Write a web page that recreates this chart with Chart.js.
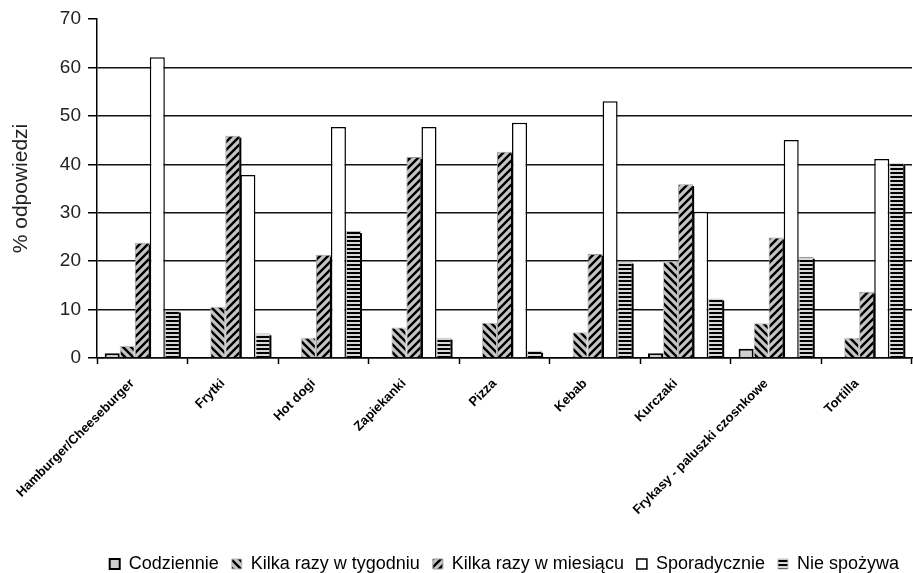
<!DOCTYPE html>
<html>
<head>
<meta charset="utf-8">
<script src="https://cdn.jsdelivr.net/npm/chart.js@4.4.0/dist/chart.umd.min.js"></script>
<style>
  html, body { margin: 0; padding: 0; background: #fff; }
  #wrap { width: 913px; height: 573px; }
</style>
</head>
<body>
<div id="wrap"><canvas id="foodChart" width="913" height="573"></canvas></div>
<script>
const categories = ['Hamburger/Cheeseburger', 'Frytki', 'Hot dogi', 'Zapiekanki', 'Pizza',
    'Kebab', 'Kurczaki', 'Frykasy - paluszki czosnkowe', 'Tortilla'];
const seriesNames = ['Codziennie', 'Kilka razy w tygodniu', 'Kilka razy w miesiącu', 'Sporadycznie', 'Nie spożywa'];

const codziennie  = [1.0, 0, 0, 0, 0, 0, 1.0, 1.9, 0];
const wTygodniu   = [2.5, 10.6, 4.2, 6.3, 7.3, 5.3, 20.0, 7.2, 4.2];
const wMiesiacu   = [23.8, 45.9, 21.3, 41.5, 42.6, 21.5, 35.9, 24.9, 13.7];
const sporadycznie = [62.1, 37.8, 47.7, 47.7, 48.6, 53.0, 30.2, 45.0, 41.1];
const nieSpozywa  = [9.8, 5.1, 26.2, 4.2, 1.5, 19.9, 12.3, 20.9, 40.2];

const yTicks = [0, 10, 20, 30, 40, 50, 60, 70];

// --- fill patterns (Excel-like hatching) ---
function makePattern(size, draw) {
    const c = document.createElement('canvas');
    c.width = size; c.height = size;
    const g = c.getContext('2d');
    draw(g, size);
    return g.createPattern(c, 'repeat');
}

const patWeek = makePattern(8, (g, s) => {
    g.fillStyle = '#c4c4c4';
    g.fillRect(0, 0, s, s);
    g.strokeStyle = '#000';
    g.lineWidth = 2.4;
    g.beginPath();
    g.moveTo(-2, -2); g.lineTo(s + 2, s + 2);
    g.moveTo(-2, s - 2); g.lineTo(2, s + 2);
    g.moveTo(s - 2, -2); g.lineTo(s + 2, 2);
    g.stroke();
});

const patMonth = makePattern(8, (g, s) => {
    g.fillStyle = '#c4c4c4';
    g.fillRect(0, 0, s, s);
    g.strokeStyle = '#000';
    g.lineWidth = 2.4;
    g.beginPath();
    g.moveTo(-2, s + 2); g.lineTo(s + 2, -2);
    g.moveTo(-2, 2); g.lineTo(2, -2);
    g.moveTo(s - 2, s + 2); g.lineTo(s + 2, s - 2);
    g.stroke();
});

const patNie = makePattern(4, (g, s) => {
    g.fillStyle = '#d8d8d8';
    g.fillRect(0, 0, s, s);
    g.fillStyle = '#000';
    g.fillRect(0, 0, s, 2);
});

// black right edge on hatched bars, like the source
const edgePlugin = {
    id: 'edge',
    afterDatasetsDraw(chart) {
        const ctx = chart.ctx;
        ctx.save();
        ctx.strokeStyle = '#000';
        ctx.lineWidth = 2;
        [2, 4].forEach(i => {
            chart.getDatasetMeta(i).data.forEach(bar => {
                if (bar.base - bar.y < 1) return;
                const x = bar.x + bar.width / 2;
                ctx.beginPath();
                ctx.moveTo(x, bar.y + 2);
                ctx.lineTo(x, bar.base);
                ctx.stroke();
            });
        });
        ctx.restore();
    }
};

const ctx = document.getElementById('foodChart').getContext('2d');
new Chart(ctx, {
    type: 'bar',
    data: {
        labels: categories,
        datasets: [
            { label: seriesNames[0], data: codziennie, backgroundColor: '#cfcfcf', borderColor: '#000', borderWidth: 2 },
            { label: seriesNames[1], data: wTygodniu, backgroundColor: patWeek, borderColor: '#bdbdbd', borderWidth: 1 },
            { label: seriesNames[2], data: wMiesiacu, backgroundColor: patMonth, borderColor: '#9a9a9a', borderWidth: 1 },
            { label: seriesNames[3], data: sporadycznie, backgroundColor: '#fff', borderColor: '#000', borderWidth: 1.5 },
            { label: seriesNames[4], data: nieSpozywa, backgroundColor: patNie, borderColor: '#bdbdbd', borderWidth: 1 }
        ]
    },
    options: {
        responsive: false,
        animation: false,
        layout: { padding: { top: 19, right: 1, left: 0, bottom: -10 } },
        datasets: {
            bar: { categoryPercentage: 0.83, barPercentage: 1.0 }
        },
        plugins: {
            legend: {
                position: 'bottom',
                align: 'end',
                labels: {
                    color: '#000',
                    boxWidth: 10,
                    boxHeight: 10,
                    padding: 13,
                    font: { family: 'Liberation Sans, Arial', size: 18 }
                }
            },
            tooltip: { enabled: false }
        },
        scales: {
            x: {
                offset: true,
                grid: {
                    offset: true,
                    drawOnChartArea: false,
                    drawTicks: true,
                    tickLength: 6,
                    tickColor: '#000',
                    tickWidth: 1.5
                },
                border: { color: '#000', width: 1.5 },
                ticks: {
                    color: '#000',
                    minRotation: 45,
                    maxRotation: 45,
                    autoSkip: false,
                    padding: 12,
                    labelOffset: -10,
                    font: { family: 'Liberation Sans, Arial', size: 13, weight: 'bold' }
                },
                afterFit(scale) { scale.height = 184; }
            },
            y: {
                min: 0,
                max: 70,
                afterBuildTicks(scale) { scale.ticks = yTicks.map(v => ({ value: v })); },
                grid: {
                    color: c => (c.tick && c.tick.value === 70) ? 'rgba(0,0,0,0)' : '#111',
                    lineWidth: 1.5,
                    tickColor: '#000',
                    tickLength: 9
                },
                border: { color: '#000', width: 1.5 },
                ticks: {
                    color: '#222',
                    padding: 7,
                    font: { family: 'Liberation Sans, Arial', size: 19 }
                },
                title: {
                    display: true,
                    text: '% odpowiedzi',
                    color: '#222',
                    padding: { top: 9, bottom: 4 },
                    font: { family: 'Liberation Sans, Arial', size: 21 }
                },
                afterFit(scale) { scale.width = 97; }
            }
        }
    },
    plugins: [edgePlugin]
});
</script>
</body>
</html>
